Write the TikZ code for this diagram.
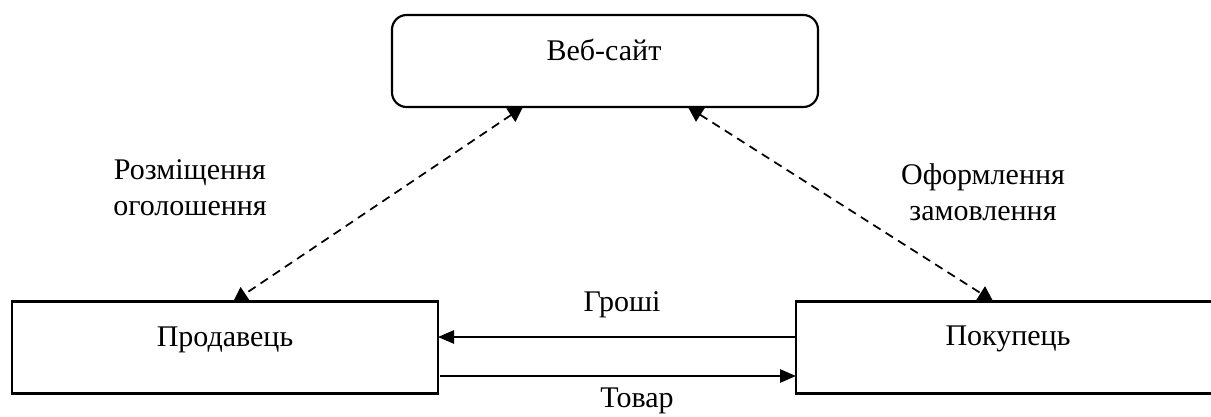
\documentclass[tikz,border=0pt]{standalone}
\usepackage{fontspec}
\setmainfont{Liberation Serif}
\usetikzlibrary{arrows.meta}
\begin{document}
\begin{tikzpicture}[x=0.75pt,y=-0.75pt,
  box/.style={draw, line width=1.6pt, minimum width=426*0.75pt, minimum height=92*0.75pt, inner sep=0pt},
  lbl/.style={font=\fontsize{22.5}{27}\selectfont, align=center, inner sep=0pt},
  dashconn/.style={line width=1.3pt, dash pattern=on 6.5pt off 4.5pt, {Triangle[length=11pt,width=12pt]}-{Triangle[length=11pt,width=12pt]}},
  solidconn/.style={line width=1.2pt, -{Triangle[length=12pt,width=10pt]}}
]
\useasboundingbox (0,0) rectangle (1211,417);
\node[box, rounded corners=11pt] (web) at (605,61) {};
\node[box] (sel) at (225,347.5) {};
\node[box] (buy) at (1009,347.5) {};
\node[lbl] (tweb) at (604,50) {Веб-сайт};
\node[lbl] (tsel) at (225,340) {Продавець};
\node[lbl] (tbuy) at (1008,339) {Покупець};
\coordinate (w1) at (523,107);
\coordinate (w2) at (688,107);
\coordinate (s1) at (233,302);
\coordinate (b1) at (993,301);
\draw[dashconn] (w1) -- (s1);
\draw[dashconn] (w2) -- (b1);
\coordinate (g1) at (796,337);
\coordinate (g2) at (438,337);
\coordinate (t1) at (440,376);
\coordinate (t2) at (796,376);
\draw[solidconn] (g1) -- (g2);
\draw[solidconn] (t1) -- (t2);
\node[lbl] (lg) at (622,305) {Гроші};
\node[lbl] (lt) at (637,401) {Товар};
\node[lbl] (lrz) at (190,188) {Розміщення\\оголошення};
\node[lbl] (lof) at (983,192) {Оформлення\\замовлення};
\end{tikzpicture}
\end{document}
